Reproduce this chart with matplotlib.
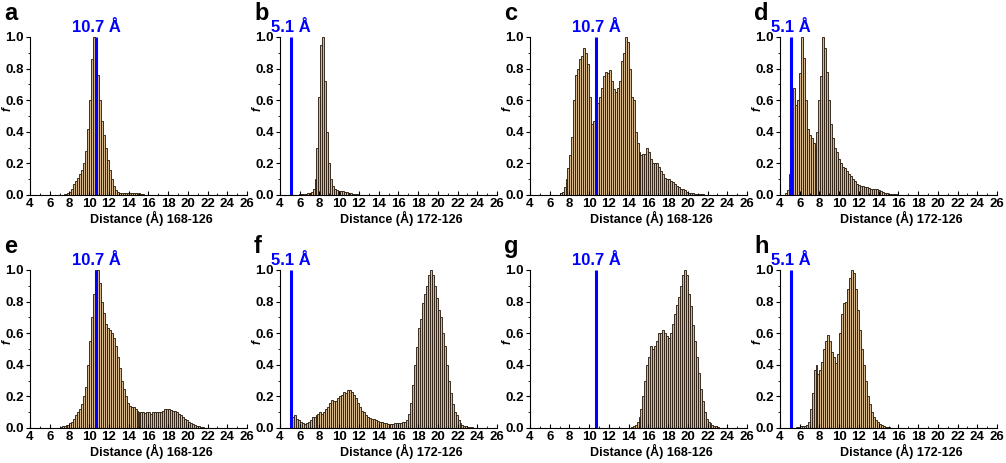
import numpy as np
import matplotlib
matplotlib.use('Agg')
import matplotlib.pyplot as plt

plt.rcParams['font.family'] = ['Liberation Sans', 'DejaVu Sans']
plt.rcParams['font.weight'] = 'bold'

# histogram data: left edge of first bin, bin width 0.2 A, normalised counts
a_start = 7.0
a_f = [0.002, 0.003, 0.004, 0.006, 0.01, 0.02, 0.04, 0.07, 0.09, 0.11, 0.13, 0.16,
       0.2, 0.28, 0.42, 0.6, 0.86, 1.0, 0.92, 0.76, 0.6, 0.47, 0.38, 0.3, 0.22, 0.16,
       0.1, 0.06, 0.03, 0.02, 0.012, 0.01, 0.01, 0.012, 0.013, 0.014, 0.015, 0.015,
       0.014, 0.013, 0.01, 0.007, 0.004, 0.002]

b_start = 5.5
b_f = [0.003, 0.003, 0.004, 0.005, 0.005, 0.007, 0.01, 0.015, 0.02, 0.04, 0.1, 0.3,
       0.62, 0.95, 1.0, 0.72, 0.4, 0.2, 0.1, 0.06, 0.04, 0.03, 0.025, 0.025, 0.025,
       0.02, 0.02, 0.015, 0.01, 0.008, 0.005, 0.004, 0.003, 0.002, 0.002]

c_start = 6.8
c_f = [0.003, 0.01, 0.02, 0.05, 0.1, 0.17, 0.25, 0.37, 0.6, 0.76, 0.8, 0.86, 0.88,
       0.93, 0.9, 0.83, 0.62, 0.45, 0.47, 0.52, 0.58, 0.62, 0.68, 0.75, 0.78, 0.77,
       0.79, 0.72, 0.67, 0.65, 0.68, 0.72, 0.85, 0.9, 1.0, 0.97, 0.8, 0.62, 0.6, 0.4,
       0.33, 0.27, 0.25, 0.26, 0.26, 0.3, 0.27, 0.23, 0.2, 0.2, 0.2, 0.18, 0.15, 0.13,
       0.11, 0.1, 0.1, 0.09, 0.08, 0.07, 0.06, 0.05, 0.04, 0.035, 0.03, 0.02, 0.015,
       0.012, 0.01, 0.008, 0.006, 0.005, 0.004, 0.004, 0.003, 0.003, 0.003, 0.002, 0.002]

d_start = 4.5
d_f = [0.01, 0.03, 0.13, 0.3, 0.68, 0.57, 0.6, 0.77, 1.0, 0.87, 0.6, 0.42, 0.38,
       0.36, 0.33, 0.31, 0.4, 0.6, 0.75, 1.0, 0.93, 0.78, 0.6, 0.45, 0.36, 0.3, 0.27,
       0.23, 0.2, 0.18, 0.17, 0.15, 0.13, 0.12, 0.1, 0.09, 0.07, 0.065, 0.06, 0.055,
       0.05, 0.05, 0.045, 0.04, 0.04, 0.035, 0.035, 0.03, 0.025, 0.02, 0.015, 0.01,
       0.008, 0.006, 0.005, 0.004, 0.004, 0.003, 0.003, 0.003, 0.002, 0.002, 0.002,
       0.002, 0.002, 0.002, 0.001]

e_start = 7.0
e_f = [0.005, 0.01, 0.015, 0.02, 0.02, 0.03, 0.04, 0.06, 0.08, 0.1, 0.12, 0.15,
       0.2, 0.26, 0.4, 0.55, 0.7, 0.85, 1.0, 1.0, 0.92, 0.8, 0.73, 0.66, 0.63, 0.62,
       0.6, 0.57, 0.52, 0.45, 0.38, 0.3, 0.25, 0.2, 0.16, 0.14, 0.13, 0.13, 0.12, 0.11,
       0.1, 0.1, 0.1, 0.095, 0.1, 0.1, 0.09, 0.1, 0.1, 0.1, 0.1, 0.1, 0.11, 0.12, 0.12,
       0.12, 0.115, 0.11, 0.105, 0.1, 0.09, 0.08, 0.07, 0.06, 0.05, 0.04, 0.03, 0.025,
       0.02, 0.015, 0.01, 0.008, 0.005, 0.003]

f_start = 4.4
f_f = [0.003, 0.003, 0.003, 0.005, 0.07, 0.08, 0.06, 0.05, 0.04, 0.03, 0.025, 0.03,
       0.04, 0.05, 0.07, 0.07, 0.08, 0.09, 0.1, 0.09, 0.1, 0.12, 0.13, 0.16, 0.18,
       0.17, 0.17, 0.19, 0.2, 0.21, 0.23, 0.22, 0.24, 0.24, 0.23, 0.21, 0.19, 0.16,
       0.13, 0.11, 0.1, 0.08, 0.07, 0.065, 0.06, 0.055, 0.05, 0.045, 0.04, 0.035, 0.03,
       0.03, 0.025, 0.025, 0.025, 0.025, 0.03, 0.03, 0.03, 0.03, 0.035, 0.04, 0.05,
       0.09, 0.16, 0.27, 0.4, 0.51, 0.63, 0.69, 0.79, 0.85, 0.9, 0.97, 1.0, 0.97, 0.9,
       0.82, 0.75, 0.7, 0.6, 0.52, 0.4, 0.3, 0.22, 0.15, 0.1, 0.08, 0.05, 0.03, 0.02,
       0.015, 0.01, 0.008, 0.006, 0.004, 0.003, 0.002]

g_start = 14.0
g_f = [0.003, 0.005, 0.01, 0.02, 0.04, 0.07, 0.12, 0.2, 0.3, 0.4, 0.45, 0.52, 0.5,
       0.52, 0.55, 0.6, 0.6, 0.62, 0.6, 0.58, 0.57, 0.6, 0.66, 0.72, 0.78, 0.83, 0.9,
       0.97, 1.0, 0.97, 0.85, 0.77, 0.65, 0.55, 0.45, 0.35, 0.25, 0.17, 0.1, 0.06,
       0.04, 0.03, 0.02, 0.015, 0.01, 0.006, 0.003]

h_start = 5.6
h_f = [0.005, 0.008, 0.01, 0.012, 0.015, 0.02, 0.04, 0.12, 0.22, 0.37, 0.4, 0.34,
       0.37, 0.42, 0.5, 0.55, 0.59, 0.55, 0.48, 0.45, 0.41, 0.47, 0.6, 0.72, 0.79,
       0.8, 0.88, 0.95, 1.0, 0.98, 0.88, 0.75, 0.62, 0.5, 0.4, 0.3, 0.2, 0.15, 0.1,
       0.07, 0.05, 0.035, 0.025, 0.018, 0.012, 0.008, 0.006, 0.004, 0.003, 0.002,
       0.002, 0.002]

letters = ['a', 'b', 'c', 'd', 'e', 'f', 'g', 'h']
starts = [a_start, b_start, c_start, d_start, e_start, f_start, g_start, h_start]
series = [a_f, b_f, c_f, d_f, e_f, f_f, g_f, h_f]
ref_x = [10.7, 5.1, 10.7, 5.1, 10.7, 5.1, 10.7, 5.1]
ref_lbl = ['10.7 Å', '5.1 Å'] * 4
xlabels = ['Distance (Å) 168-126', 'Distance (Å) 172-126'] * 4

W, H = 1006, 463
fig = plt.figure(figsize=(W / 100, H / 100), dpi=100)

col_left = [30, 280, 530, 780]
row_top = [37, 270]
ax_w, ax_h = 217, 158

for i in range(8):
    r, c = divmod(i, 4)
    left, top = col_left[c], row_top[r]
    ax = fig.add_axes([left / W, 1 - (top + ax_h) / H, ax_w / W, ax_h / H])
    x = starts[i] + 0.2 * np.arange(len(series[i]))
    ax.bar(x, series[i], width=0.2, align='edge', color='#d8b98e',
           edgecolor='#2e2216', linewidth=0.65)
    ax.plot([ref_x[i], ref_x[i]], [0, 1.0], color='#0000ff', lw=2.2,
            solid_capstyle='butt')
    ax.text(ref_x[i], 1.015, ref_lbl[i], color='#0000ff', ha='center', va='bottom',
            fontsize=12, fontweight='bold', clip_on=False)
    ax.set_xlim(4, 26)
    ax.set_ylim(0, 1.0)
    ax.set_xticks(np.arange(4, 27, 2))
    ax.set_xticks(np.arange(5, 26, 2), minor=True)
    ax.set_yticks(np.arange(0, 1.01, 0.2))
    ax.set_yticks(np.arange(0.1, 1.0, 0.2), minor=True)
    ax.set_yticklabels(['0.0', '0.2', '0.4', '0.6', '0.8', '1.0'])
    ax.tick_params(axis='x', which='major', direction='in', length=3, width=0.8,
                   labelsize=9.5, pad=2.5)
    ax.tick_params(axis='x', which='minor', direction='in', length=1.5, width=0.6)
    ax.tick_params(axis='y', which='major', direction='out', length=3, width=0.8,
                   labelsize=9.5, pad=1.5)
    ax.tick_params(axis='y', which='minor', direction='out', length=1.5, width=0.6)
    for s in ['top', 'right']:
        ax.spines[s].set_visible(False)
    for s in ['left', 'bottom']:
        ax.spines[s].set_linewidth(0.8)
    ax.set_xlabel(xlabels[i], fontsize=9, fontweight='bold')
    ax.xaxis.set_label_coords(0.56, -0.1, transform=ax.transAxes)
    ax.xaxis.label.set_va('top')
    ax.set_ylabel('f', fontsize=8.5, fontstyle='italic', fontweight='bold')
    ax.yaxis.set_label_coords(-16 / ax_w, 0.545, transform=ax.transAxes)
    fig.text((left - 26) / W, 1 - (top - 17) / H, letters[i], fontsize=17,
             fontweight='bold', ha='left', va='baseline')

fig.savefig('out.png', dpi=100)
